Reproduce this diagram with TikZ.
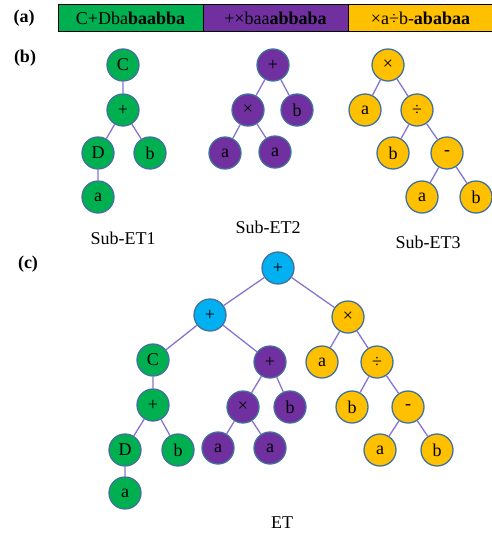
\documentclass[tikz,border=0pt]{standalone}
\usepackage{fontspec}
\setmainfont{Liberation Serif}
\usetikzlibrary{positioning}

\definecolor{etgreen}{HTML}{00B050}
\definecolor{etpurple}{HTML}{7030A0}
\definecolor{etorange}{HTML}{FFC000}
\definecolor{etblue}{HTML}{00B0F0}
\definecolor{ringblue}{HTML}{41719C}
\definecolor{linkviolet}{HTML}{8674D0}

\begin{document}
\begin{tikzpicture}[x=1pt, y=-1pt,
  op/.style={circle, draw=ringblue, line width=1.3pt, minimum size=32pt, inner sep=0pt,
    font=\fontsize{18}{18}\selectfont},
  gn/.style={op, fill=etgreen},
  pn/.style={op, fill=etpurple},
  on/.style={op, fill=etorange},
  bn/.style={op, fill=etblue},
  link/.style={draw=linkviolet, line width=1.3pt},
  seg/.style={draw=black, line width=1pt, minimum width=145pt, minimum height=27pt,
    inner sep=0pt, outer sep=0pt, font=\fontsize{18}{18}\selectfont},
  tag/.style={font=\fontsize{18}{18}\selectfont\bfseries},
  caption/.style={font=\fontsize{18}{18}\selectfont}
]
\useasboundingbox (0,0) rectangle (492,533);

% (a) the chromosome
\node[tag] (taga) at (24,18) {(a)};
\node[seg, fill=etgreen, anchor=west] (chrom1) at (58,18) {C+Dba\textbf{baabba}};
\node[seg, fill=etpurple, right=0pt of chrom1] (chrom2) {+×baa\textbf{abbaba}};
\node[seg, fill=etorange, right=0pt of chrom2] (chrom3) {×a÷b-\textbf{ababaa}};

% (b) the three sub-trees
\node[tag] (tagb) at (25,58) {(b)};

\node[gn] (s1C) at (123,65) {C};
\node[gn] (s1plus) at (123,110) {+};
\node[gn] (s1D) at (98,153) {D};
\node[gn] (s1b) at (150,153) {b};
\node[gn] (s1a) at (98,197) {a};
\node[caption] (s1name) at (123,238) {Sub-ET1};

\node[pn] (s2plus) at (273,65) {+};
\node[pn] (s2times) at (248,110) {×};
\node[pn] (s2b) at (297,110) {b};
\node[pn] (s2a) at (225,153) {a};
\node[pn] (s2aa) at (275,152) {a};
\node[caption] (s2name) at (268,227) {Sub-ET2};

\node[on] (s3times) at (388,65) {×};
\node[on] (s3a) at (365,110) {a};
\node[on] (s3div) at (417,110) {÷};
\node[on] (s3b) at (393,153) {b};
\node[on] (s3minus) at (447,153) {-};
\node[on] (s3aa) at (422,197) {a};
\node[on] (s3bb) at (476,197) {b};
\node[caption] (s3name) at (428,242) {Sub-ET3};

\path[link] (s1C) -- (s1plus) (s1plus) -- (s1D) (s1plus) -- (s1b) (s1D) -- (s1a);
\path[link] (s2plus) -- (s2times) (s2plus) -- (s2b) (s2times) -- (s2a) (s2times) -- (s2aa);
\path[link] (s3times) -- (s3a) (s3times) -- (s3div) (s3div) -- (s3b) (s3div) -- (s3minus)
  (s3minus) -- (s3aa) (s3minus) -- (s3bb);

% (c) the whole tree
\node[tag] (tagc) at (28,264) {(c)};

\node[bn] (root) at (278,268) {+};
\node[bn] (join) at (210,315) {+};

\node[gn] (eC) at (153,360) {C};
\node[gn] (eplus) at (153,405) {+};
\node[gn] (eD) at (125,450) {D};
\node[gn] (eb) at (178,450) {b};
\node[gn] (ea) at (125,493) {a};

\node[pn] (pplus) at (270,362) {+};
\node[pn] (ptimes) at (243,407) {×};
\node[pn] (pb) at (290,407) {b};
\node[pn] (pa) at (218,448) {a};
\node[pn] (paa) at (270,448) {a};

\node[on] (otimes) at (348,317) {×};
\node[on] (oa) at (322,362) {a};
\node[on] (odiv) at (377,362) {÷};
\node[on] (ob) at (352,407) {b};
\node[on] (ominus) at (408,407) {-};
\node[on] (oaa) at (380,450) {a};
\node[on] (obb) at (437,450) {b};

\node[caption] (etname) at (282,523) {ET};

\path[link] (root) -- (join) (root) -- (otimes) (join) -- (eC) (join) -- (pplus);
\path[link] (eC) -- (eplus) (eplus) -- (eD) (eplus) -- (eb) (eD) -- (ea);
\path[link] (pplus) -- (ptimes) (pplus) -- (pb) (ptimes) -- (pa) (ptimes) -- (paa);
\path[link] (otimes) -- (oa) (otimes) -- (odiv) (odiv) -- (ob) (odiv) -- (ominus)
  (ominus) -- (oaa) (ominus) -- (obb);
\end{tikzpicture}
\end{document}
